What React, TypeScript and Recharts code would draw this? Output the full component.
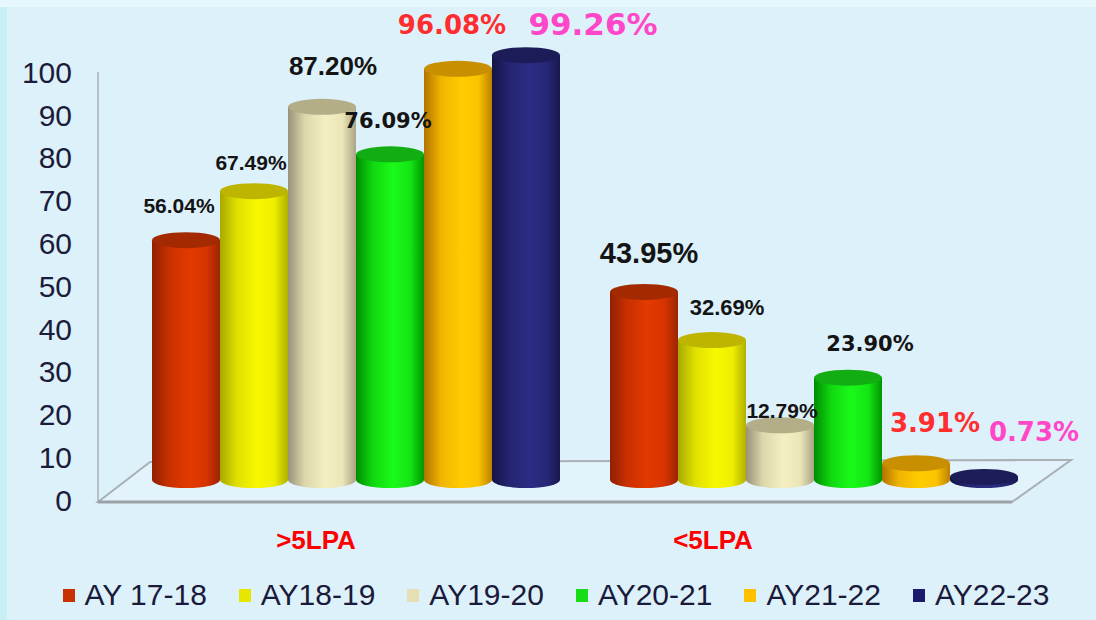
import React from 'react';
import { BarChart, Bar, XAxis, YAxis, LabelList, Legend, Customized } from 'recharts';

const categories = ['>5LPA', '<5LPA'];
const seriesNames = ['AY 17-18', 'AY18-19', 'AY19-20', 'AY20-21', 'AY21-22', 'AY22-23'];
const ay1718 = [56.04, 43.95];
const ay1819 = [67.49, 32.69];
const ay1920 = [87.2, 12.79];
const ay2021 = [76.09, 23.9];
const ay2122 = [96.08, 3.91];
const ay2223 = [99.26, 0.73];
const yTicks = [0, 10, 20, 30, 40, 50, 60, 70, 80, 90, 100];

const seriesValues = [ay1718, ay1819, ay1920, ay2021, ay2122, ay2223];
const keys = ['s0', 's1', 's2', 's3', 's4', 's5'];

const data = categories.map((c, i) => {
  const row: any = { name: c };
  seriesValues.forEach((arr, s) => (row[keys[s]] = arr[i]));
  return row;
});

// styling
const W = 1096;
const H = 620;
const XAXIS_H = 30;
const MARGIN = { top: 52, right: 54, bottom: 140 - XAXIS_H, left: 0 };
const YAXIS_W = 126;
const PLOT_LEFT = MARGIN.left + YAXIS_W;
const PLOT_RIGHT = W - MARGIN.right;
const PLOT_TOP = MARGIN.top;
const PLOT_BOTTOM = H - MARGIN.bottom - XAXIS_H;

const BG = '#ddf1fa';
const legendColors = ['#c83200', '#e6e600', '#e6dfb4', '#18dc18', '#ffc000', '#1a1a6e'];
const bodyStops = [
  ['#8f2000', '#c93000', '#e23a00', '#d83400', '#9a2400'],
  ['#a8a800', '#e0e000', '#f8f800', '#eeee00', '#b0b000'],
  ['#99927a', '#dcd8ac', '#f3efc2', '#ebe6b8', '#aaa386'],
  ['#008c00', '#10d810', '#1afa1a', '#14e414', '#009600'],
  ['#b07400', '#f0b400', '#ffcc00', '#fbc400', '#bc8000'],
  ['#141446', '#242470', '#2c2c84', '#272778', '#18184e'],
];
const topColors = ['#a32a00', '#bdb500', '#b3ad88', '#12ad12', '#c89000', '#1c1c58'];

const FONT_A = '"Liberation Sans", Arial, sans-serif';
const FONT_V = '"DejaVu Sans", Verdana, sans-serif';
const BLACK = '#141414';
const RED = '#ff2d2d';
const PINK = '#ff47c8';

const labelStyles = [
  [
    { dx: -7, dy: -35, size: 21, font: FONT_A, color: BLACK },
    { dx: 5, dy: -39, size: 29, font: FONT_A, color: BLACK },
  ],
  [
    { dx: -3, dy: -29, size: 21, font: FONT_A, color: BLACK },
    { dx: 15, dy: -33, size: 22, font: FONT_A, color: BLACK },
  ],
  [
    { dx: 11, dy: -41, size: 26, font: FONT_A, color: BLACK },
    { dx: 2, dy: -15, size: 21, font: FONT_A, color: BLACK },
  ],
  [
    { dx: -2, dy: -34, size: 21, font: FONT_V, color: BLACK },
    { dx: 22, dy: -34, size: 21, font: FONT_V, color: BLACK },
  ],
  [
    { dx: -6, dy: -44, size: 26, font: FONT_V, color: RED },
    { dx: 19, dy: -41, size: 26, font: FONT_V, color: RED },
  ],
  [
    { dx: 67, dy: -31, size: 31, font: FONT_V, color: PINK },
    { dx: 50, dy: -45, size: 26, font: FONT_V, color: PINK },
  ],
];

const catLabelDx = [-39, -100];
const RY = 8;

const makeShape = (s: number) => (props: any) => {
  const { x, y, width, height } = props;
  if (x == null || y == null) return null;
  const h = Math.max(height || 0, 0);
  const rx = width / 2;
  const cx = x + rx;
  const d = `M ${x} ${y} L ${x} ${y + h} A ${rx} ${RY} 0 0 0 ${x + width} ${y + h} L ${x + width} ${y} Z`;
  return (
    <g>
      <path d={d} fill={`url(#grad${s})`} />
      <ellipse cx={cx} cy={y} rx={rx} ry={RY} fill={topColors[s]} />
    </g>
  );
};

const makeLabel = (s: number) => (props: any) => {
  const { x, y, width, value, index } = props;
  const st = labelStyles[s][index];
  if (!st || x == null) return null;
  const cx = x + width / 2 + st.dx;
  const cy = y + st.dy + st.size * 0.36;
  return (
    <text
      x={cx}
      y={cy}
      textAnchor="middle"
      fontFamily={st.font}
      fontWeight="bold"
      fontSize={st.size}
      fill={st.color}
    >
      {Number(value).toFixed(2) + '%'}
    </text>
  );
};

const YTick = (props: any) => {
  const { y, payload } = props;
  return (
    <text
      x={72}
      y={y + 20 + 30 * 0.36}
      textAnchor="end"
      fontFamily={FONT_A}
      fontSize={30}
      fill="#1c1c3a"
    >
      {payload.value}
    </text>
  );
};

const XTick = (props: any) => {
  const { x, payload, index } = props;
  return (
    <text
      x={x + (catLabelDx[index] || 0)}
      y={540 + 26 * 0.36}
      textAnchor="middle"
      fontFamily={FONT_A}
      fontWeight="bold"
      fontSize={26}
      fill="#ff0000"
    >
      {payload.value}
    </text>
  );
};

const Floor = () => {
  const fl = { x: PLOT_LEFT - 28, y: PLOT_BOTTOM + 22 };
  const bl = { x: PLOT_LEFT + 24, y: PLOT_BOTTOM - 18 };
  const br = { x: PLOT_RIGHT + 29, y: PLOT_BOTTOM - 20 };
  const fr = { x: PLOT_RIGHT - 30, y: PLOT_BOTTOM + 22 };
  return (
    <g>
      <polygon
        points={`${fl.x},${fl.y} ${bl.x},${bl.y} ${br.x},${br.y} ${fr.x},${fr.y}`}
        fill="#e2f3fb"
        stroke="#a9b0b6"
        strokeWidth={2}
      />
      <line x1={fl.x} y1={fl.y} x2={fl.x} y2={PLOT_TOP + 20} stroke="#a9b0b6" strokeWidth={1.5} />
      <line x1={fl.x} y1={fl.y} x2={fr.x} y2={fr.y} stroke="#9aa2a8" strokeWidth={3} />
    </g>
  );
};

const LegendContent = () => (
  <div
    style={{
      display: 'flex',
      justifyContent: 'center',
      alignItems: 'center',
      gap: 32,
      width: W,
      height: 40,
      paddingLeft: 16,
      boxSizing: 'border-box',
      fontFamily: FONT_A,
      fontSize: 30,
      color: '#1a1a3a',
      lineHeight: '40px',
    }}
  >
    {seriesNames.map((n, i) => (
      <div key={n} style={{ display: 'flex', alignItems: 'center' }}>
        <span
          style={{
            display: 'inline-block',
            width: 12,
            height: 13,
            background: legendColors[i],
            marginRight: 10,
          }}
        />
        <span>{n}</span>
      </div>
    ))}
  </div>
);

export default function App() {
  return (
    <div
      style={{
        position: 'fixed',
        left: 0,
        top: 0,
        width: W,
        height: H,
        background: BG,
        overflow: 'hidden',
      }}
    >
      <div style={{ position: 'absolute', left: 0, top: 0, width: 7, height: H, background: '#c8eef6' }} />
      <div style={{ position: 'absolute', left: 0, top: 0, width: W, height: 7, background: '#e6f8fc' }} />
      <div style={{ position: 'absolute', left: 0, top: 0 }}>
        <BarChart
          width={W}
          height={H}
          data={data}
          margin={MARGIN}
          barCategoryGap={26}
          barGap={0}
        >
          <defs>
            {bodyStops.map((stops, s) => (
              <linearGradient key={s} id={`grad${s}`} x1="0" y1="0" x2="1" y2="0">
                <stop offset="0%" stopColor={stops[0]} />
                <stop offset="25%" stopColor={stops[1]} />
                <stop offset="55%" stopColor={stops[2]} />
                <stop offset="80%" stopColor={stops[3]} />
                <stop offset="100%" stopColor={stops[4]} />
              </linearGradient>
            ))}
          </defs>
          <Customized component={Floor} />
          <XAxis
            dataKey="name"
            height={XAXIS_H}
            axisLine={false}
            tickLine={false}
            tick={<XTick />}
            interval={0}
          />
          <YAxis
            width={YAXIS_W}
            domain={[0, 100]}
            ticks={yTicks}
            interval={0}
            axisLine={false}
            tickLine={false}
            tick={<YTick />}
          />
          <Legend
            layout="horizontal"
            verticalAlign="middle"
            align="center"
            content={<LegendContent />}
            wrapperStyle={{ top: 575, left: 0, width: W, height: 40 }}
          />
          {keys.map((k, s) => (
            <Bar
              key={k}
              dataKey={k}
              name={seriesNames[s]}
              fill={legendColors[s]}
              isAnimationActive={false}
              shape={makeShape(s)}
            >
              <LabelList dataKey={k} content={makeLabel(s)} />
            </Bar>
          ))}
        </BarChart>
      </div>
    </div>
  );
}
